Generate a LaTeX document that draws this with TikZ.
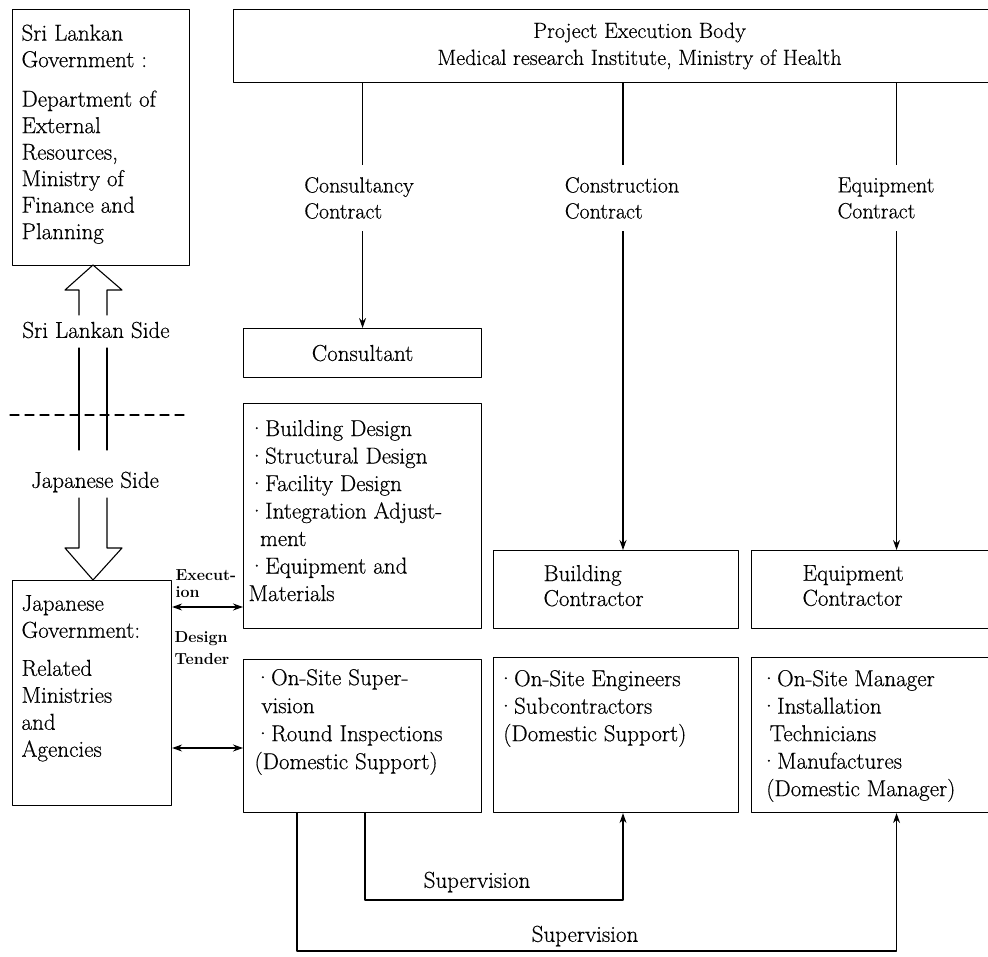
\documentclass[tikz,border=0pt]{standalone}
\usepackage{fontspec}
\setmainfont{Latin Modern Roman}[UprightFeatures={FakeBold=0.45}]
\usepackage{tikz}
\usetikzlibrary{arrows.meta,calc,positioning}

\begin{document}
\begin{tikzpicture}[x=1pt,y=-1pt,>={Stealth[length=10pt,width=7pt]},
  line cap=round,line join=round,line width=1.1pt,
  font=\fontsize{23}{27}\selectfont,
  box/.style={draw,anchor=north west,inner sep=0pt},
  txt/.style={anchor=north west,align=left,inner sep=0pt},
  lab/.style={fill=white,align=left,inner xsep=3pt,inner ysep=12pt},
  tag/.style={anchor=north west,align=left,inner sep=0pt,font=\fontsize{16}{17}\selectfont\bfseries}]
\useasboundingbox (0,0) rectangle (988,957);
\fill[white] (0,0) rectangle (988,957);
\clip (0,0) rectangle (988,957);

% left column: the two governments
\node[box,minimum width=177,minimum height=256] (slg) at (12,9) {};
\node[txt,font=\fontsize{23}{26.5}\selectfont] (slgt) at (21,24) {Sri Lankan\\Government :\\[13pt]Department of\\External\\Resources,\\Ministry of\\Finance and\\Planning};
\node[box,minimum width=159,minimum height=225] (jpg) at (12,580) {};
\node[txt] (jpgt) at (21,594.5) {Japanese\\Government:\\[11pt]Related\\Ministries\\and\\Agencies};

% open arrows between the two sides
\draw (79,315) -- (79,290) -- (65,290) -- (93,265) -- (122,290) -- (107,290) -- (107,315);
\draw (79,348) -- (79,450) (107,348) -- (107,450);
\draw (79,498) -- (79,548) -- (65,548) -- (93,580) -- (122,548) -- (107,548) -- (107,498);
\draw[dash pattern=on 9pt off 6pt] (10,415) -- (186,415);
\node (slside) at (96,330) {Sri Lankan Side};
\node (jpside) at (95,482) {Japanese Side};

% top box and the three contracts
\node[box,minimum width=812,minimum height=73,align=center,font=\fontsize{22}{27}\selectfont] (exec) at (233,9) {Project Execution Body\\Medical research Institute, Ministry of Health};
\node[box,minimum width=238,minimum height=49] (cons) at (243,328) {Consultant};
\node[box,minimum width=238,minimum height=225] (des) at (243,403) {};
\node[txt,font=\fontsize{23}{27.5}\selectfont] (dest) at (248,419.5) {·Building Design\\·Structural Design\\·Facility Design\\·Integration Adjust-\\\hspace*{0.5em}ment\\·Equipment and\\Materials};
\node[box,minimum width=238,minimum height=153] (sup) at (243,659) {};
\node[txt,font=\fontsize{23}{28}\selectfont] (supt) at (254,668.5) {·On-Site Super-\\\hspace*{0.3em}vision\\·Round Inspections\\(Domestic Support)};

\node[box,minimum width=245,minimum height=78] (bld) at (493,550) {};
\node[txt,font=\fontsize{23}{25}\selectfont] (bldt) at (543,564.5) {Building\\Contractor};
\node[box,minimum width=245,minimum height=155] (bld2) at (493,657) {};
\node[txt,font=\fontsize{23}{27.5}\selectfont] (bld2t) at (497,669.5) {·On-Site Engineers\\·Subcontractors\\\hspace*{0.25em}(Domestic Support)};

\node[box,minimum width=290,minimum height=78] (eqc) at (751,550) {};
\node[txt,font=\fontsize{23}{25}\selectfont] (eqct) at (802,564.5) {Equipment\\Contractor};
\node[box,minimum width=290,minimum height=155] (eqc2) at (751,657) {};
\node[txt,font=\fontsize{23}{27.5}\selectfont] (eqc2t) at (760,669.5) {·On-Site Manager\\·Installation\\\hspace*{0.4em}Technicians\\·Manufactures\\\hspace*{0.25em}(Domestic Manager)};

\coordinate (xb) at (623,0);
\draw[->] (exec.south -| cons.north) -- (cons.north);
\draw[->] (exec.south -| xb) -- (bld.north -| xb);
\draw[->] (exec.south -| eqc.north) -- (eqc.north);
\node[lab,font=\fontsize{22}{26}\selectfont] (cclab) at (359,198) {Consultancy\\Contract};
\node[lab,font=\fontsize{22}{26}\selectfont] (bclab) at (622,198) {Construction\\Contract};
\node[lab,font=\fontsize{22}{26}\selectfont] (eclab) at (886,198) {Equipment\\Contract};

% execution, design and tender
\coordinate (ex) at (0,607);
\coordinate (dt) at (0,748);
\draw[<->] (jpg.east |- ex) -- (des.west |- ex);
\draw[<->] (jpg.east |- dt) -- (sup.west |- dt);
\node[tag] (exlab) at (175,569) {Execut-\\ion};
\node[tag,font=\fontsize{16}{22}\selectfont\bfseries] (dtlab) at (174,631) {Design\\Tender};

% supervision by the consultant
\coordinate (s1) at (365,900);
\coordinate (s2) at (297,951);
\draw[->] (sup.south -| s1) -- (s1) -| (bld2.south -| xb);
\draw[->] (sup.south -| s2) -- (s2) -| (eqc2.south);
\node (sv1) at (477,882) {Supervision};
\node (sv2) at (585,936) {Supervision};
\end{tikzpicture}
\end{document}
